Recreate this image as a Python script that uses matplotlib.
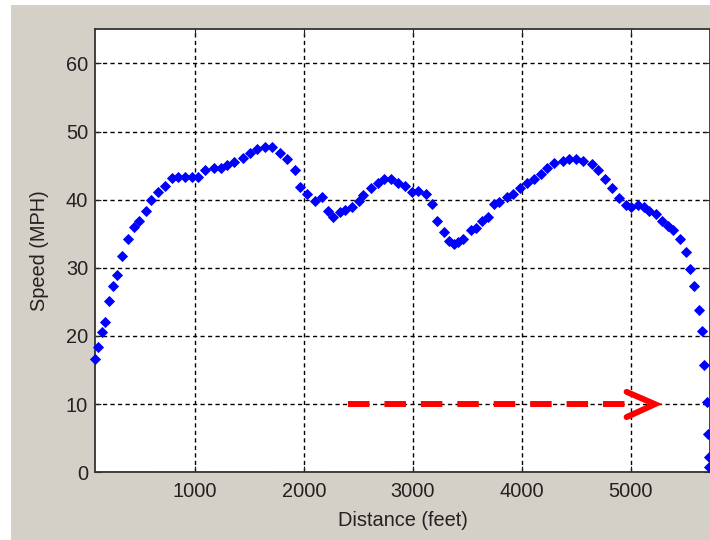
import matplotlib
matplotlib.use("Agg")
import matplotlib.pyplot as plt
from matplotlib.patches import Rectangle

# ---------------- data ----------------
distance_ft = [83, 113, 144, 175, 211, 251, 288, 333, 383, 441, 489, 551, 597, 664, 725,
               787, 847, 909, 970, 1031, 1092, 1175, 1236, 1297, 1361, 1438, 1505, 1572,
               1643, 1704, 1780, 1847, 1918, 1964, 2031, 2101, 2163, 2218, 2269, 2331, 2376,
               2438, 2508, 2544, 2612, 2676, 2737, 2798, 2860, 2927, 2988, 3049, 3117, 3177,
               3218, 3285, 3333, 3376, 3416, 3462, 3530, 3578, 3631, 3686, 3743, 3792, 3860,
               3920, 3985, 4049, 4110, 4175, 4234, 4298, 4372, 4433, 4496, 4563, 4640, 4700,
               4766, 4826, 4887, 4952, 5000, 5060, 5119, 5167, 5230, 5282, 5342, 5388, 5450,
               5502, 5546, 5575, 5624, 5655, 5667, 5702, 5705, 5712, 5714]
speed_mph = [16.6, 18.4, 20.6, 22.0, 25.2, 27.3, 29.0, 31.8, 34.3, 36.0, 36.9, 38.4, 40.0,
             41.2, 42.0, 43.2, 43.4, 43.4, 43.4, 43.4, 44.4, 44.7, 44.7, 45.1, 45.6, 46.1,
             46.9, 47.4, 47.7, 47.7, 46.9, 45.9, 44.4, 41.9, 40.8, 39.8, 40.4, 38.3, 37.4,
             38.2, 38.5, 39.0, 39.8, 40.7, 41.7, 42.5, 43.0, 43.0, 42.5, 42.0, 41.2, 41.3,
             40.8, 39.3, 36.8, 35.2, 34.0, 33.5, 33.8, 34.3, 35.5, 35.9, 36.9, 37.4, 39.3,
             39.7, 40.4, 40.9, 41.7, 42.4, 43.1, 43.8, 44.7, 45.4, 45.7, 45.9, 45.9, 45.7,
             45.2, 44.4, 43.1, 41.7, 40.2, 39.2, 39.0, 39.2, 39.0, 38.4, 37.9, 36.9, 36.2,
             35.5, 34.2, 32.3, 29.8, 27.3, 23.8, 20.7, 15.8, 10.3, 5.6, 2.3, 0.8]

x_ticks = [1000, 2000, 3000, 4000, 5000]
y_ticks = [0, 10, 20, 30, 40, 50, 60]
x_limits = [83, 5725]
y_limits = [0, 65]

arrow_shaft_x = [2400, 5000]
arrow_head_x = [4960, 5220, 4960]
arrow_head_y = [11.8, 10.0, 8.1]
arrow_level = 10

x_label = "Distance (feet)"
y_label = "Speed (MPH)"

# ---------------- figure ----------------
W, H = 710, 540
plt.rcParams['font.family'] = ['Liberation Sans', 'DejaVu Sans']
fig = plt.figure(figsize=(W / 100, H / 100), dpi=100, facecolor='white')
bg = Rectangle((11 / W, 0), 1 - 11 / W, 1 - 5 / H, transform=fig.transFigure,
               facecolor='#d4d0c8', edgecolor='none')
bg.set_zorder(-10)
fig.add_artist(bg)

ax_l, ax_r, ax_t, ax_b = 95, 710, 29.3, 472.3
ax = fig.add_axes([ax_l / W, (H - ax_b) / H, (ax_r - ax_l) / W, (ax_b - ax_t) / H])
ax.set_zorder(1)
ax.set_facecolor('white')

ax.plot(distance_ft, speed_mph, linestyle='none', marker='D', markersize=4.6,
        markerfacecolor='#0000ff', markeredgecolor='#0000ff', markeredgewidth=0.6,
        clip_on=False, zorder=5)

ax.plot(arrow_shaft_x, [arrow_level, arrow_level], color='#ff0000', linewidth=4.3,
        linestyle=(0, (3.6, 2.5)), dash_capstyle='butt', zorder=4)
ax.plot(arrow_head_x, arrow_head_y, color='#ff0000', linewidth=4.3,
        solid_capstyle='round', solid_joinstyle='miter', zorder=4)

ax.set_xlim(x_limits)
ax.set_ylim(y_limits)
ax.set_xticks(x_ticks)
ax.set_yticks(y_ticks)
ax.set_xticklabels([str(v) for v in x_ticks])
ax.set_yticklabels([str(v) for v in y_ticks])

ax.grid(True, color='black', linewidth=1.0, linestyle=(0, (3.0, 2.4)))
ax.set_axisbelow(True)
ax.tick_params(direction='in', length=4, width=0.8, colors='#222222', labelsize=14.4,
               top=True, right=True, pad=5)
ax.tick_params(axis='x', pad=7)
for s in ax.spines.values():
    s.set_color('#333333')
    s.set_linewidth(1.3)

ax.set_xlabel(x_label, fontsize=14.4, color='#222222')
ax.set_ylabel(y_label, fontsize=14.4, color='#222222')
ax.xaxis.set_label_coords(0.5, (ax_b - 521) / (ax_b - ax_t))
ax.xaxis.label.set_va('center')
ax.yaxis.set_label_coords((40 - ax_l) / (ax_r - ax_l), 0.5)
ax.yaxis.label.set_va('center')

fig.savefig('out.png', dpi=100, facecolor=fig.get_facecolor())
